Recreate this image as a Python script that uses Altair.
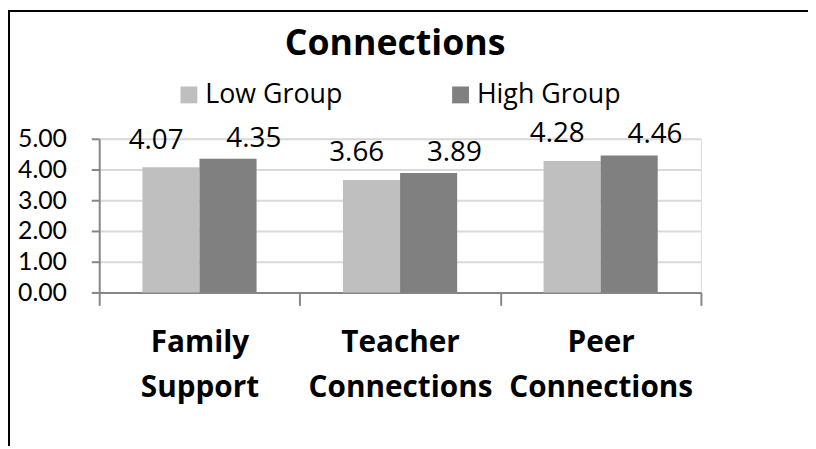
import altair as alt
import pandas as pd

categories = ["Family Support", "Teacher Connections", "Peer Connections"]
groups = ["Low Group", "High Group"]
low_values = [4.07, 3.66, 4.28]
high_values = [4.35, 3.89, 4.46]
y_ticks = [0, 1, 2, 3, 4, 5]
colors = ["#bfbfbf", "#808080"]

rows = []
for c, lv, hv in zip(categories, low_values, high_values):
    rows.append({"category": c, "group": groups[0], "value": lv})
    rows.append({"category": c, "group": groups[1], "value": hv})
df = pd.DataFrame(rows)

FONT = "Open Sans"
AX = "#868686"

x_enc = alt.X(
    "category:N", sort=categories,
    scale=alt.Scale(paddingInner=0, paddingOuter=0),
    axis=alt.Axis(
        title=None, labelAngle=0, labelFont=FONT, labelFontSize=30,
        labelFontWeight="bold", labelColor="black", labelLineHeight=45,
        labelPadding=23, labelBaseline="top", labelLimit=400,
        labelExpr="split(datum.label, ' ')",
        tickBand="extent", tickSize=13, tickColor=AX, tickWidth=2,
        domainColor=AX, domainWidth=2, grid=False,
    ),
)
xoff_enc = alt.XOffset(
    "group:N", sort=groups,
    scale=alt.Scale(paddingOuter=0.757, paddingInner=0),
)
y_enc = alt.Y(
    "value:Q",
    scale=alt.Scale(domain=[0, 5], nice=False),
    axis=alt.Axis(
        title=None, values=y_ticks, format=".2f", labelFont="Lato",
        labelFontSize=25, labelColor="black", labelPadding=25,
        tickSize=8, tickColor=AX, tickWidth=2, domainColor=AX, domainWidth=2,
        grid=True, gridColor="#d9d9d9", gridWidth=2,
    ),
)

base = alt.Chart(df)

bars = base.mark_bar().encode(
    x=x_enc,
    xOffset=xoff_enc,
    y=y_enc,
    color=alt.Color(
        "group:N", sort=groups,
        scale=alt.Scale(domain=groups, range=colors),
        legend=alt.Legend(
            title=None, orient="none", legendX=77, legendY=-58,
            direction="horizontal", symbolType="square", symbolSize=289,
            symbolStrokeWidth=0, labelFont=FONT, labelFontSize=27,
            labelColor="black", columnPadding=105, labelOffset=3,
            symbolOpacity=1, labelLimit=400,
        ),
    ),
)

text_low = base.transform_filter(alt.datum.group == groups[0]).mark_text(
    font=FONT, fontSize=28, baseline="alphabetic", dy=-19, dx=-15, color="black"
).encode(x=x_enc, xOffset=xoff_enc, y=y_enc, text=alt.Text("value:Q", format=".2f"))

text_high = base.transform_filter(alt.datum.group == groups[1]).mark_text(
    font=FONT, fontSize=28, baseline="alphabetic", dy=-12, dx=26, color="black"
).encode(x=x_enc, xOffset=xoff_enc, y=y_enc, text=alt.Text("value:Q", format=".2f"))

frame = alt.Data(values=[{}])
border_left = alt.Chart(frame).mark_rule(color="black", strokeWidth=2).encode(
    x=alt.value(-91), y=alt.value(-129), y2=alt.value(310)
)
border_top = alt.Chart(frame).mark_rule(color="black", strokeWidth=2).encode(
    x=alt.value(-92), x2=alt.value(715), y=alt.value(-129)
)

chart = alt.layer(bars, text_low, text_high, border_left, border_top).properties(
    width=607, height=155,
    title=alt.TitleParams(
        "Connections", font=FONT, fontSize=36, fontWeight="bold",
        color="black", anchor="middle", dx=-5, offset=0, dy=53,
    ),
    autosize=alt.AutoSizeParams(type="none"),
    padding={"left": 92, "top": 130, "right": 108, "bottom": 155},
).configure_view(stroke=None).configure(background="white")

chart.save("out.html", embed_options={"renderer": "svg", "actions": False})
